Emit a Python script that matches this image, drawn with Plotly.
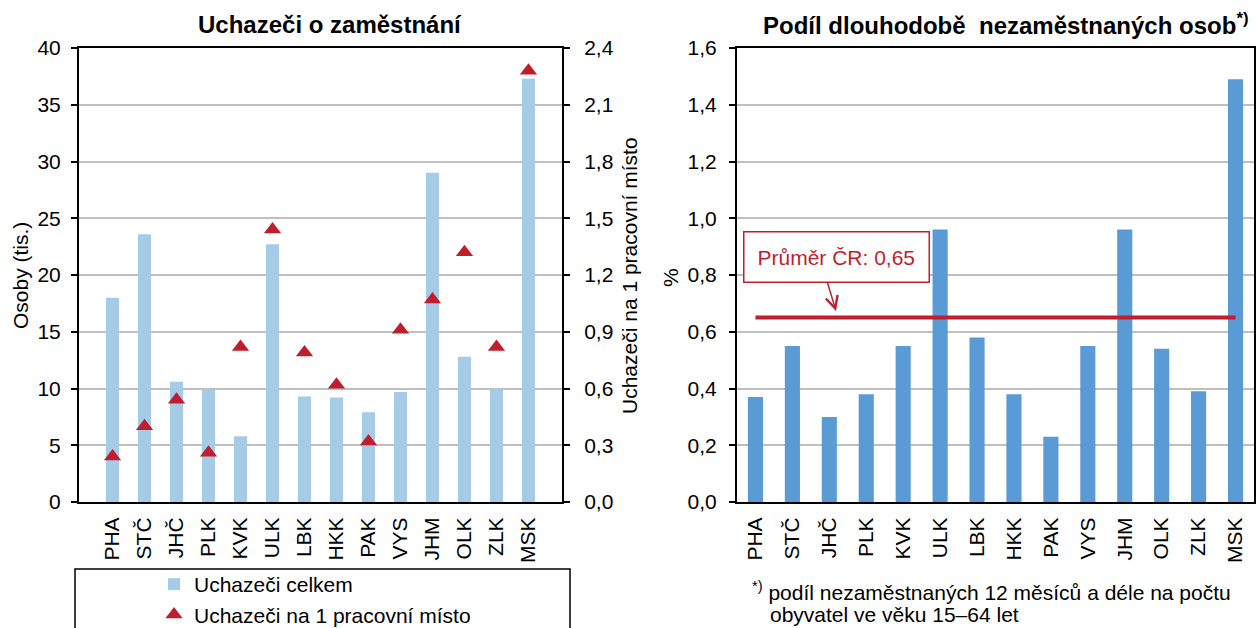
import plotly.graph_objects as go

# ---- data ----
categories = ["PHA", "STČ", "JHČ", "PLK", "KVK", "ULK", "LBK", "HKK", "PAK", "VYS", "JHM", "OLK", "ZLK", "MSK"]
uchazeci_celkem = [18.0, 23.6, 10.6, 9.9, 5.8, 22.7, 9.3, 9.2, 7.9, 9.7, 29.0, 12.8, 10.0, 37.3]
uchazeci_na_misto = [0.24, 0.40, 0.54, 0.26, 0.82, 1.44, 0.79, 0.62, 0.32, 0.91, 1.07, 1.32, 0.82, 2.28]
podil_dlouhodobe = [0.37, 0.55, 0.30, 0.38, 0.55, 0.96, 0.58, 0.38, 0.23, 0.55, 0.96, 0.54, 0.39, 1.49]
prumer_cr = 0.65

# figure is a little taller than the 628 px window; the legend frame runs off the bottom
W, H = 1256, 660
def px(x):
    return x / W
def py(y):
    return 1 - y / H

FONT = "Liberation Sans, Arial, sans-serif"
FS = 21
RED = "#BF1E2E"
LIGHT_BLUE = "#A6CBE6"
BLUE = "#5B9BD5"
GRID = "#BFBFBF"

fig = go.Figure()

fig.add_trace(go.Bar(
    x=categories, y=uchazeci_celkem, name="Uchazeči celkem",
    marker=dict(color=LIGHT_BLUE, line=dict(width=0)),
    xaxis="x", yaxis="y", showlegend=True,
))
fig.add_trace(go.Scatter(
    x=categories, y=uchazeci_na_misto, name="Uchazeči na 1 pracovní místo",
    mode="markers", marker=dict(symbol="triangle-up", size=15, color=RED, line=dict(width=0)),
    xaxis="x", yaxis="y2", showlegend=True,
))
fig.add_trace(go.Bar(
    x=categories, y=podil_dlouhodobe, name="Podíl",
    marker=dict(color=BLUE, line=dict(width=0)),
    xaxis="x2", yaxis="y3", showlegend=False,
))
fig.add_trace(go.Scatter(
    x=[categories[0], categories[-1]], y=[prumer_cr, prumer_cr],
    mode="lines", line=dict(color=RED, width=4),
    xaxis="x2", yaxis="y3", showlegend=False,
))

ydom = [py(502), py(48)]
tickfont = dict(family=FONT, size=FS, color="black")

fig.update_layout(
    template="none",
    width=W, height=H, autosize=False,
    margin=dict(l=0, r=0, t=0, b=0, pad=0),
    paper_bgcolor="white", plot_bgcolor="white",
    separators=", ",
    font=dict(family=FONT, size=FS, color="black"),
    bargap=0.59,
    xaxis=dict(domain=[px(79), px(562)], anchor="y", type="category", automargin=False,
               showline=True, linecolor="black", linewidth=2, mirror=True,
               ticks="", tickangle=-90, tickfont=tickfont, ticklabelstandoff=5,
               showgrid=False, zeroline=False),
    yaxis=dict(domain=ydom, anchor="x", range=[0, 40], dtick=5, automargin=False,
               showline=True, linecolor="black", linewidth=2,
               ticks="outside", ticklen=6, tickcolor="black", tickwidth=2,
               tickfont=tickfont, ticklabelstandoff=6,
               showgrid=True, gridcolor=GRID, gridwidth=2, zeroline=False),
    yaxis2=dict(domain=ydom, anchor="x", overlaying="y", side="right", automargin=False,
                range=[0, 2.4], dtick=0.3, tickformat=".1f",
                showline=True, linecolor="black", linewidth=2,
                ticks="outside", ticklen=6, tickcolor="black", tickwidth=2,
                tickfont=tickfont, ticklabelstandoff=10,
                showgrid=False, zeroline=False),
    xaxis2=dict(domain=[px(737), px(1254)], anchor="y3", type="category", automargin=False,
                showline=True, linecolor="black", linewidth=2, mirror=True,
                ticks="", tickangle=-90, tickfont=tickfont, ticklabelstandoff=5,
                showgrid=False, zeroline=False),
    yaxis3=dict(domain=ydom, anchor="x2", range=[0, 1.6], dtick=0.2, tickformat=".1f",
                automargin=False,
                showline=True, linecolor="black", linewidth=2, mirror=True,
                ticks="outside", ticklen=6, tickcolor="black", tickwidth=2,
                tickfont=tickfont, ticklabelstandoff=8,
                showgrid=True, gridcolor=GRID, gridwidth=2, zeroline=False),
    legend=dict(x=px(154), y=py(564), xanchor="left", yanchor="top",
                bgcolor="rgba(0,0,0,0)", borderwidth=0, orientation="v",
                font=dict(family=FONT, size=FS, color="black"),
                tracegroupgap=0, itemclick=False),
)

# legend frame (cut off at the bottom of the window)
fig.add_shape(type="rect", xref="paper", yref="paper",
              x0=px(75), x1=px(570), y0=py(569), y1=py(655),
              line=dict(color="black", width=1.5), fillcolor="rgba(0,0,0,0)")

def txt(text, x, y, size=FS, angle=0, xanchor="center", color="black", **kw):
    d = dict(text=text, x=px(x), y=py(y), xref="paper", yref="paper",
             xanchor=xanchor, yanchor="middle", showarrow=False, textangle=angle,
             font=dict(family=FONT, size=size, color=color))
    d.update(kw)
    return d

ann = [
    txt("<b>Uchazeči o zaměstnání</b>", 330, 24, size=24),
    txt("<b>Podíl dlouhodobě\u00a0 nezaměstnaných osob<sup>*)</sup></b>", 1006, 24, size=24),
    txt("Osoby (tis.)", 20, 276, angle=-90),
    txt("Uchazeči na 1 pracovní místo", 629, 276, angle=-90),
    txt("%", 671, 278, angle=-90),
    txt("Průměr ČR: 0,65", 836, 257, color=RED, bordercolor=RED, borderwidth=1.5,
        borderpad=13, bgcolor="white"),
    dict(text="", x=px(836), y=py(311), xref="paper", yref="paper",
         showarrow=True, ax=-9, ay=-30, arrowhead=5, arrowsize=1.6,
         arrowwidth=1.5, arrowcolor=RED, standoff=0),
    txt("<sup>*)</sup> podíl nezaměstnaných 12 měsíců a déle na počtu", 750, 591, xanchor="left"),
    txt("obyvatel ve věku 15–64 let", 768, 614, xanchor="left"),
]
fig.update_layout(annotations=ann)

fig.write_html("out.html", config={"displayModeBar": False},
               post_script="document.body.style.margin='0';document.body.style.overflow='hidden';")
